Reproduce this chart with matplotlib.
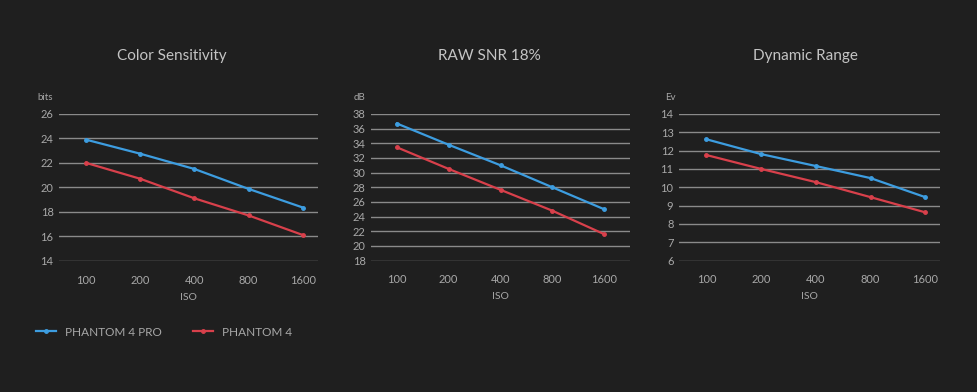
import matplotlib
matplotlib.use("Agg")
import matplotlib.pyplot as plt
from matplotlib.lines import Line2D

iso_labels = ["100", "200", "400", "800", "1600"]
series_names = ["PHANTOM 4 PRO", "PHANTOM 4"]

color_pro = [23.9, 22.75, 21.5, 19.87, 18.35]
color_p4 = [22.0, 20.7, 19.1, 17.7, 16.1]

snr_pro = [36.7, 33.8, 31.0, 28.0, 25.0]
snr_p4 = [33.45, 30.5, 27.65, 24.8, 21.6]

dr_pro = [12.62, 11.81, 11.16, 10.5, 9.46]
dr_p4 = [11.76, 11.0, 10.28, 9.46, 8.63]

titles = ["Color Sensitivity", "RAW SNR 18%", "Dynamic Range"]
units = ["bits", "dB", "Ev"]
yticks = [list(range(14, 27, 2)), list(range(18, 39, 2)), list(range(6, 15, 1))]

BG = "#1f1f1f"
BLUE = "#3d9de0"
RED = "#d8404b"
GRID = "#8a8a8a"
TICK = "#a8a8a8"
TITLE = "#c4c4c4"

plt.rcParams['font.family'] = ['Lato', 'DejaVu Sans']

W, H = 977, 392
fig = plt.figure(figsize=(W / 100, H / 100), dpi=100, facecolor=BG)

# pixel boxes: left, right, top, bottom; xlim right extents
boxes = [(59, 318, 114, 260.7, 4.28), (371, 630, 114, 260.5, 4.5), (679, 940, 114, 260.5, 4.27)]
title_x = [172, 489, 805]
data = [(color_pro, color_p4), (snr_pro, snr_p4), (dr_pro, dr_p4)]

for i, (l, r, t, b, xr) in enumerate(boxes):
    ax = fig.add_axes([l / W, (H - b) / H, (r - l) / W, (b - t) / H])
    ax.set_facecolor(BG)
    for s in ax.spines.values():
        s.set_visible(False)
    xs = list(range(len(iso_labels)))
    pro, p4 = data[i]
    ax.plot(xs, pro, color=BLUE, lw=1.6, marker='o', ms=2.5, zorder=3)
    ax.plot(xs, p4, color=RED, lw=1.6, marker='o', ms=2.5, zorder=3)
    yt = yticks[i]
    ax.set_ylim(yt[0], yt[-1])
    ax.set_xlim(-0.5, xr)
    ax.set_yticks(yt)
    ax.set_yticklabels([str(v) for v in yt])
    ax.set_xticks(xs)
    ax.set_xticklabels(iso_labels)
    ax.tick_params(axis='both', length=0, colors=TICK, labelsize=8)
    ax.tick_params(axis='x', pad=10)
    ax.tick_params(axis='y', pad=4)
    ax.yaxis.grid(True, color=GRID, lw=1)
    ax.set_axisbelow(True)
    ax.set_xlabel("ISO", color=TICK, fontsize=7.5, labelpad=5)
    offs = [-22, -17, -14][i]
    ax.annotate(units[i], xy=(0, 1), xycoords='axes fraction', xytext=(offs, 17),
                textcoords='offset pixels', color=TICK, fontsize=7, ha='left', va='center')
    fig.text(title_x[i] / W, 1 - 56 / H, titles[i], color=TITLE, fontsize=11,
             ha='center', va='center')

handles = [Line2D([], [], color=BLUE, lw=1.6, marker='o', ms=2.5),
           Line2D([], [], color=RED, lw=1.6, marker='o', ms=2.5)]
leg = fig.legend(handles, series_names, loc='center left', bbox_to_anchor=(25 / W, 1 - 332 / H),
                 ncol=2, frameon=False, fontsize=8.5, labelcolor=TICK, handlelength=1.7,
                 columnspacing=2.6, handletextpad=0.8)

fig.savefig("out.png", dpi=100, facecolor=BG)
